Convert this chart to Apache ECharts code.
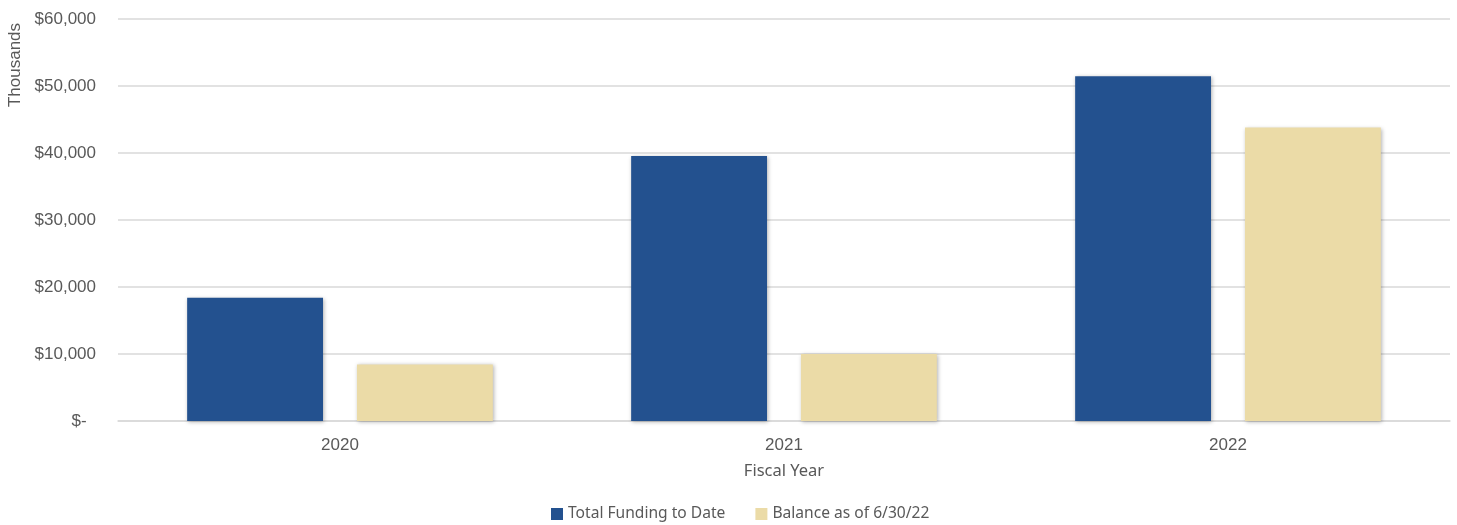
<!DOCTYPE html>
<html>
<head>
<meta charset="utf-8">
<script src="https://cdn.jsdelivr.net/npm/echarts@6/dist/echarts.min.js"></script>
<style>
html,body{margin:0;padding:0;background:#fff;}
#chart{width:1457px;height:525px;}
</style>
</head>
<body>
<div id="chart"></div>
<script>
const categories = ['2020', '2021', '2022'];
const totalFunding = [18400, 39550, 51450];
const balance = [8450, 10000, 43800];
const seriesNames = ['Total Funding to Date', 'Balance as of 6/30/22'];

const chart = echarts.init(document.getElementById('chart'));
const shadow = {shadowBlur: 4, shadowColor: 'rgba(0,0,0,0.3)', shadowOffsetX: 1, shadowOffsetY: 1};
chart.setOption({
  animation: false,
  grid: {left: 118, right: 7, top: 19, bottom: 104},
  legend: {
    top: 501, left: 546, itemWidth: 12, itemHeight: 12, itemGap: 30, icon: 'rect',
    textStyle: {color: '#595959', fontSize: 15.6, fontFamily: 'Noto Sans'},
    data: seriesNames
  },
  graphic: [{
    type: 'text', x: 15, y: 65, rotation: Math.PI / 2,
    style: {text: 'Thousands', fill: '#595959', fontSize: 17, fontFamily: 'Liberation Sans', textAlign: 'center', textVerticalAlign: 'middle'}
  }],
  xAxis: {
    type: 'category', data: categories,
    name: 'Fiscal Year', nameLocation: 'middle', nameGap: 42,
    nameTextStyle: {color: '#595959', fontSize: 16.5, fontFamily: 'Noto Sans'},
    axisLine: {lineStyle: {color: '#d9d9d9', width: 1.5}},
    axisTick: {show: false},
    axisLabel: {color: '#595959', fontSize: 17, fontFamily: 'Liberation Sans', margin: 16}
  },
  yAxis: {
    type: 'value', min: 0, max: 60000, interval: 10000,
    axisLine: {show: false}, axisTick: {show: false},
    splitLine: {lineStyle: {color: '#d9d9d9', width: 1.5}},
    axisLabel: {
      color: '#595959', fontSize: 17, fontFamily: 'Liberation Sans', margin: 22,
      formatter: v => v === 0 ? '$-  ' : '$' + v.toLocaleString('en-US')
    }
  },
  series: [
    {name: seriesNames[0], type: 'bar', data: totalFunding, barWidth: '30.6%', barGap: '25%',
     itemStyle: Object.assign({color: '#23518F'}, shadow)},
    {name: seriesNames[1], type: 'bar', data: balance, barWidth: '30.6%',
     itemStyle: Object.assign({color: '#EBDBA7'}, shadow)}
  ]
});
</script>
</body>
</html>
